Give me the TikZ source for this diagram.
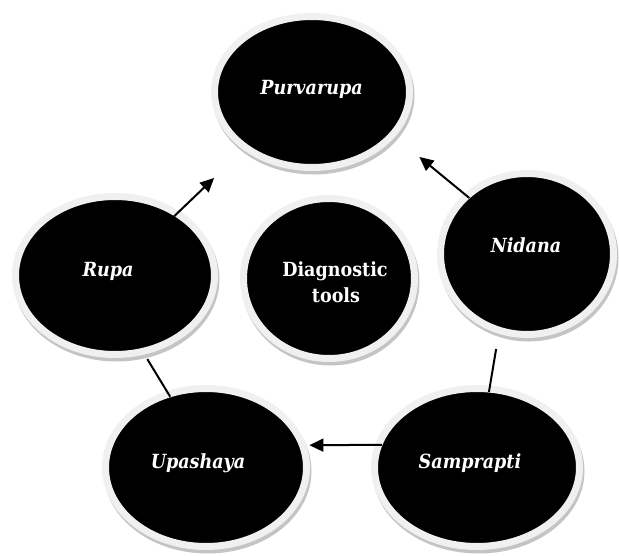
\documentclass[tikz,border=0pt]{standalone}
\usepackage{fontspec}
\setmainfont{DejaVu Serif Condensed}
\usetikzlibrary{shapes.geometric,shadows,arrows.meta}
\definecolor{ringgray}{HTML}{F0F0F0}
\definecolor{shadowgray}{HTML}{C4C4C4}
\tikzset{
  bubble/.style={ellipse, fill=black, draw=ringgray, line width=7pt, inner sep=0pt, outer sep=0pt,
    drop shadow={shadow xshift=1.5pt, shadow yshift=-3.5pt, fill=shadowgray, draw=shadowgray, line width=7pt, opacity=1}},
  lbl/.style={text=white, font=\fontsize{19.5}{22}\selectfont\bfseries\itshape, anchor=base, inner sep=0pt},
  lblup/.style={lbl, font=\fontsize{19.5}{22}\selectfont\bfseries},
  conn/.style={line width=2pt, draw=black},
  arr/.style={conn, -{Triangle[length=14pt,width=13pt]}},
}
\begin{document}
\begin{tikzpicture}[x=1pt,y=-1pt]
\useasboundingbox (0,0) rectangle (619,555);
% bubbles
\node[bubble, minimum width=195pt, minimum height=151pt] (purv) at (312,92) {};
\node[bubble, minimum width=173pt, minimum height=161pt] (nid) at (527,254) {};
\node[bubble, minimum width=199pt, minimum height=158pt] (rupa) at (115,275.5) {};
\node[bubble, minimum width=171pt, minimum height=160pt] (diag) at (329,278.5) {};
\node[bubble, minimum width=201pt, minimum height=158pt] (up) at (206,467.5) {};
\node[bubble, minimum width=205pt, minimum height=158pt] (sam) at (477,467.5) {};
% labels
\node[lbl] (tpurv) at (311.5,94) {Purvarupa};
\node[lbl] (tnid) at (526,252) {Nidana};
\node[lbl] (trupa) at (108,276) {Rupa};
\node[lbl] (tup) at (198,468) {Upashaya};
\node[lbl] (tsam) at (470,468) {Samprapti};
\node[lblup] (tdiag1) at (335,276) {Diagnostic};
\node[lblup] (tdiag2) at (336,302) {tools};
% connectors
\draw[arr, shorten <=-4pt, shorten >=44pt] (rupa.45) -- (purv.220);
\draw[arr, shorten <=-3pt, shorten >=35pt] (nid.136) -- (purv.332);
\draw[conn, shorten <=19pt, shorten >=-3pt] (nid.250) -- (sam.81);
\draw[arr, shorten <=-3pt, shorten >=7pt] (sam.167) -- (up.13);
\draw[conn, shorten <=9pt, shorten >=-3pt] (rupa.290) -- (up.117);
\end{tikzpicture}
\end{document}
